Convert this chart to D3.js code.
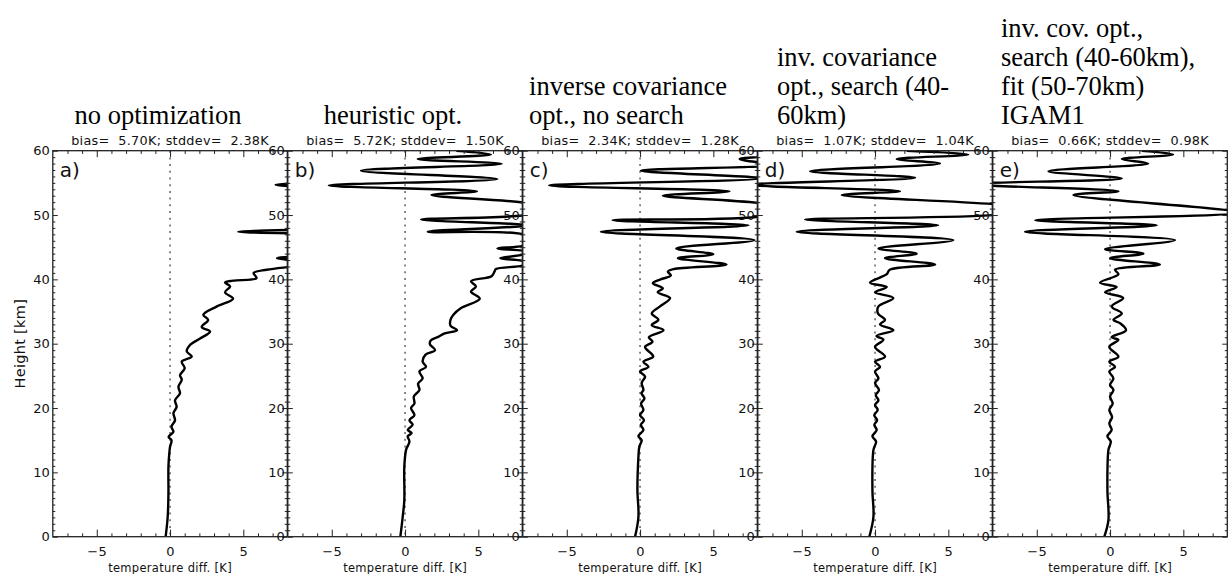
<!DOCTYPE html>
<html>
<head>
<meta charset="utf-8">
<script src="https://cdn.jsdelivr.net/npm/d3@7"></script>
<style>
  html, body { margin: 0; padding: 0; background: #fff; }
  svg { display: block; }
  .stat { white-space: pre; }
</style>
</head>
<body>
<svg id="chart" width="1228" height="574"></svg>
<script>
// Temperature difference profiles (height km, difference K) for five retrieval set-ups
const profileA = [[0,-0.3],[3.1,-0.16],[6.7,-0.11],[10.9,-0.11],[13,-0.05],[14,0],[15,0.1],[15.5,-0.1],[16.3,0.23],[17.1,0.1],[18.1,0.34],[19.2,0.23],[20.2,0.45],[21.2,0.34],[22.3,0.68],[23.3,0.57],[24.4,0.8],[25.1,0.68],[26.2,1.0],[27.2,0.8],[28,1.48],[28.8,1.14],[29.8,1.36],[30.8,2.05],[31.9,2.73],[32.6,2.16],[33.7,2.6],[34.5,2.27],[35.8,3.2],[37,4.3],[38,3.75],[38.9,4.1],[39.5,3.75],[39.8,4.3],[40.2,5.9],[41,5.7],[41.5,6.6],[42.0,8.4],[42.6,10.5],[43.3,7.3],[44.0,11],[44.8,9.5],[45.5,12],[46.2,10],[46.8,13],[47.4,4.65],[48.1,13],[48.8,10],[49.4,14],[50.2,11],[51.2,13],[52.5,12],[53.7,14],[54.7,7.2],[55.6,14],[56.9,10],[58,14],[58.7,10.5],[59.4,13],[60,11]];
const profileB = [[0,-0.32],[3.1,-0.16],[5.7,-0.05],[10.9,-0.05],[13.5,0.07],[14.8,0.3],[15.6,0.18],[16.1,0.45],[16.6,0.18],[17.4,0.52],[18.1,0.3],[18.9,0.64],[20.0,0.41],[20.7,0.64],[21.8,0.6],[22.8,0.98],[23.8,0.89],[24.6,1.2],[25.7,0.98],[26.4,1.43],[27.2,1.2],[28.3,1.4],[29.0,2.05],[29.9,1.7],[30.5,1.75],[31.1,2.3],[31.6,2.7],[32.1,3.55],[32.8,3.1],[33.7,3.1],[34.5,3.3],[35.5,3.8],[37.0,5.1],[38.1,4.5],[38.9,4.84],[39.7,4.5],[40.5,5.9],[41.2,6.1],[41.6,6.2],[42.2,8.1],[42.7,8.3],[43.3,6.5],[43.9,8.1],[44.3,8.2],[44.8,6.3],[45.5,8.4],[46.7,8.4],[47.4,1.55],[48.4,8.4],[49.3,1.1],[50.1,8.6],[51.0,9.5],[51.8,8.5],[53.1,1.8],[53.7,4.9],[54.6,-5.2],[55.6,6.3],[56.9,-3.0],[57.96,6.6],[58.7,0.86],[59.4,5.86],[60,3.5]];
const profileC = [[0,-0.34],[3.1,-0.11],[7.3,-0.18],[12.4,-0.11],[14.0,-0.05],[15.0,0.11],[15.6,-0.11],[16.6,0.23],[17.4,0.05],[18.1,0.27],[18.9,0.0],[19.7,0.23],[20.7,0.07],[21.5,0.3],[22.3,0.1],[22.8,0.23],[23.9,0.11],[24.9,0.34],[25.7,0.0],[26.4,0.57],[27.2,0.23],[28.0,0.9],[29.5,0.34],[30.3,0.85],[31.0,0.6],[32.1,1.6],[32.9,0.8],[33.7,1.25],[34.7,0.8],[35.8,1.36],[37.1,2.05],[38.0,1.2],[38.6,1.55],[39.4,0.87],[40.0,1.4],[40.6,2.1],[41.2,1.9],[41.6,2.3],[42.3,5.9],[43.3,2.58],[43.9,5.0],[44.8,2.47],[46.1,7.8],[47.4,-2.67],[48.4,7.4],[49.2,-1.87],[49.9,8.5],[51.0,9.5],[51.8,8.3],[53.0,1.55],[53.7,6.1],[54.6,-6.2],[55.7,8.3],[56.9,0.07],[57.8,9],[58.7,6.8],[59.4,9],[60,9]];
const profileD = [[0,-0.39],[3.1,-0.11],[7.3,-0.18],[13.5,-0.11],[14.8,0.07],[15.6,-0.18],[16.6,0.11],[17.4,-0.05],[18.1,0.14],[18.9,-0.05],[19.7,0.18],[20.5,0.0],[21.2,0.23],[22.0,0.05],[22.8,0.27],[23.9,0.0],[24.6,0.23],[25.7,0.0],[26.4,0.34],[27.2,0.0],[28.0,0.68],[29.5,0.0],[30.6,0.57],[31.2,0.1],[32.1,1.25],[33.0,0.34],[33.7,0.68],[34.7,0.2],[35.8,0.23],[37.1,1.25],[38.0,0.0],[38.8,0.8],[39.5,-0.34],[40.8,0.8],[41.5,1.0],[42.3,4.1],[43.3,0.68],[44.0,2.84],[44.8,0.23],[46.1,5.34],[47.4,-5.34],[48.4,4.3],[49.3,-4.77],[50.2,9],[51.0,10],[51.6,8.5],[53.1,-2.27],[53.7,1.7],[54.7,-8.6],[55.8,2.73],[56.8,-4.43],[58.0,4.43],[58.7,1.48],[59.4,6.36],[60,2.16]];
const profileE = [[0,-0.39],[2.6,-0.11],[7.3,-0.18],[13.5,-0.11],[14.8,0.05],[15.6,-0.18],[16.6,0.11],[17.6,-0.05],[18.6,0.14],[19.7,-0.05],[20.7,0.18],[21.8,0.0],[22.8,0.23],[23.6,0.0],[24.6,0.23],[25.7,-0.05],[26.4,0.34],[27.2,-0.05],[28.0,0.57],[29.5,-0.05],[30.6,0.57],[31.0,0.11],[32.1,1.09],[33.2,0.68],[33.7,0.23],[34.7,0.8],[35.8,0.11],[37.1,0.9],[38.0,-0.34],[38.8,0.45],[39.5,-0.68],[40.8,0.57],[41.5,0.34],[42.3,3.4],[43.3,0.0],[44.0,2.27],[44.7,-0.34],[46.1,4.43],[47.4,-5.8],[48.4,3.18],[49.2,-5.1],[50.4,8.7],[53.1,-2.5],[53.7,0.57],[54.8,-9.5],[55.7,0.8],[56.8,-4.2],[58.0,2.6],[58.7,0.8],[59.4,4.3],[60,2.16]];

const profiles = [profileA, profileB, profileC, profileD, profileE];
const panelLetters = ["a)", "b)", "c)", "d)", "e)"];
const panelTitles = [
  ["no optimization"],
  ["heuristic opt."],
  ["inverse covariance", "opt., no search"],
  ["inv. covariance", "opt., search (40-", "60km)"],
  ["inv. cov. opt.,", "search (40-60km),", "fit (50-70km)", "IGAM1"]
];
const biasValues = [5.70, 5.72, 2.34, 1.07, 0.66];
const stddevValues = [2.38, 1.50, 1.28, 1.04, 0.98];
const xMajorTicks = [-5, 0, 5];
const xMinorTicks = [-7,-6,-4,-3,-2,-1,1,2,3,4,6,7];
const yMajorTicks = [0, 10, 20, 30, 40, 50, 60];
const yMinorTicks = d3.range(0, 61).filter(v => v % 10 !== 0);

const svg = d3.select("#chart");
const plotTop = 150.7, plotBottom = 536.7;
const panelW = 234.5, firstLeft = 52.8, step = 235;
const labelFont = "'DejaVu Sans', sans-serif";

const y = d3.scaleLinear().domain([0, 60]).range([plotBottom, plotTop]);

profiles.forEach((data, i) => {
  const left = firstLeft + i * step;
  const x = d3.scaleLinear().domain([-8, 8]).range([left, left + panelW]);
  const g = svg.append("g");
  const cx = left + panelW / 2;

  // clip region for the profile
  const clipId = "clip-" + i;
  svg.append("clipPath").attr("id", clipId)
    .append("rect").attr("x", left).attr("y", plotTop)
    .attr("width", panelW).attr("height", plotBottom - plotTop);

  // zero reference line
  g.append("line")
    .attr("x1", x(0)).attr("x2", x(0))
    .attr("y1", plotTop).attr("y2", plotBottom)
    .attr("stroke", "#555").attr("stroke-width", 1.4)
    .attr("stroke-dasharray", "2,4.7");

  // profile curve
  const line = d3.line()
    .x(d => x(d[1]))
    .y(d => y(d[0]))
    .curve(d3.curveCatmullRom.alpha(0.5));
  g.append("path")
    .datum(data)
    .attr("clip-path", `url(#${clipId})`)
    .attr("d", line)
    .attr("fill", "none")
    .attr("stroke", "#000")
    .attr("stroke-width", 2.4)
    .attr("stroke-linejoin", "round");

  // axes on all four sides, ticks pointing inward
  const axStyle = sel => {
    sel.select(".domain").remove();
    sel.selectAll(".tick line").attr("stroke", "#222").attr("stroke-width", 1);
  };
  const bottomMajor = g.append("g").attr("transform", `translate(0,${plotBottom})`)
    .call(d3.axisBottom(x).tickValues(xMajorTicks).tickSize(-7).tickPadding(10));
  bottomMajor.call(axStyle);
  bottomMajor.selectAll("text").attr("font-family", labelFont).attr("font-size", 13)
    .attr("letter-spacing", 0.5).attr("fill", "#111");
  g.append("g").attr("transform", `translate(0,${plotBottom})`)
    .call(d3.axisBottom(x).tickValues(xMinorTicks).tickSize(-3.3).tickFormat(""))
    .call(axStyle);
  g.append("g").attr("transform", `translate(0,${plotTop})`)
    .call(d3.axisTop(x).tickValues(xMajorTicks).tickSize(-6.5).tickFormat(""))
    .call(axStyle);
  g.append("g").attr("transform", `translate(0,${plotTop})`)
    .call(d3.axisTop(x).tickValues(xMinorTicks).tickSize(-3.2).tickFormat(""))
    .call(axStyle);

  const leftMajor = g.append("g").attr("transform", `translate(${left},0)`)
    .call(d3.axisLeft(y).tickValues(yMajorTicks).tickSize(-5).tickPadding(3));
  leftMajor.call(axStyle);
  leftMajor.selectAll(".tick line").attr("x2", 5);
  leftMajor.selectAll("text").attr("font-family", labelFont).attr("font-size", 13).attr("fill", "#111").attr("x", -3);
  g.append("g").attr("transform", `translate(${left},0)`)
    .call(d3.axisLeft(y).tickValues(yMinorTicks).tickSize(-2.5).tickFormat(""))
    .call(axStyle);
  g.append("g").attr("transform", `translate(${left + panelW},0)`)
    .call(d3.axisRight(y).tickValues(yMajorTicks).tickSize(-5).tickFormat(""))
    .call(axStyle);
  g.append("g").attr("transform", `translate(${left + panelW},0)`)
    .call(d3.axisRight(y).tickValues(yMinorTicks).tickSize(-2.5).tickFormat(""))
    .call(axStyle);

  // frame
  g.append("rect")
    .attr("x", left).attr("y", plotTop)
    .attr("width", panelW).attr("height", plotBottom - plotTop)
    .attr("fill", "none").attr("stroke", "#222").attr("stroke-width", 1.3);

  // panel letter
  g.append("text")
    .attr("x", left + 7).attr("y", plotTop + 26)
    .attr("font-family", labelFont).attr("font-size", 20)
    .attr("fill", "#111")
    .text(panelLetters[i]);

  // x axis title
  g.append("text")
    .attr("x", x(0)).attr("y", 572)
    .attr("text-anchor", "middle")
    .attr("font-family", labelFont).attr("font-size", 11.5)
    .attr("letter-spacing", 0.3).attr("fill", "#111")
    .text("temperature diff. [K]");

  // statistics line
  g.append("text")
    .attr("class", "stat")
    .attr("x", cx).attr("y", 145)
    .attr("text-anchor", "middle")
    .attr("font-family", labelFont).attr("font-size", 12.8)
    .attr("letter-spacing", 0.3).attr("fill", "#111")
    .text(`bias= ${biasValues[i].toFixed(2).padStart(5, " ")}K; stddev= ${stddevValues[i].toFixed(2).padStart(5, " ")}K`);

  // multi-line serif title, lines left-aligned, block centred over the panel
  const lines = panelTitles[i];
  const tg = g.append("g");
  const texts = lines.map((ln, k) => tg.append("text")
    .attr("y", 124 - (lines.length - 1 - k) * 29)
    .attr("font-family", "'Liberation Serif', 'Times New Roman', serif")
    .attr("font-size", 26.5).attr("fill", "#000")
    .text(ln));
  const maxW = d3.max(texts, t => t.node().getComputedTextLength());
  texts.forEach(t => t.attr("x", cx - 12 - maxW / 2));
});

// y axis title
svg.append("text")
  .attr("transform", `translate(25,${(plotTop + plotBottom) / 2}) rotate(-90)`)
  .attr("text-anchor", "middle")
  .attr("font-family", labelFont).attr("font-size", 14.5)
  .attr("letter-spacing", 0.3).attr("fill", "#111")
  .text("Height [km]");
</script>
</body>
</html>
